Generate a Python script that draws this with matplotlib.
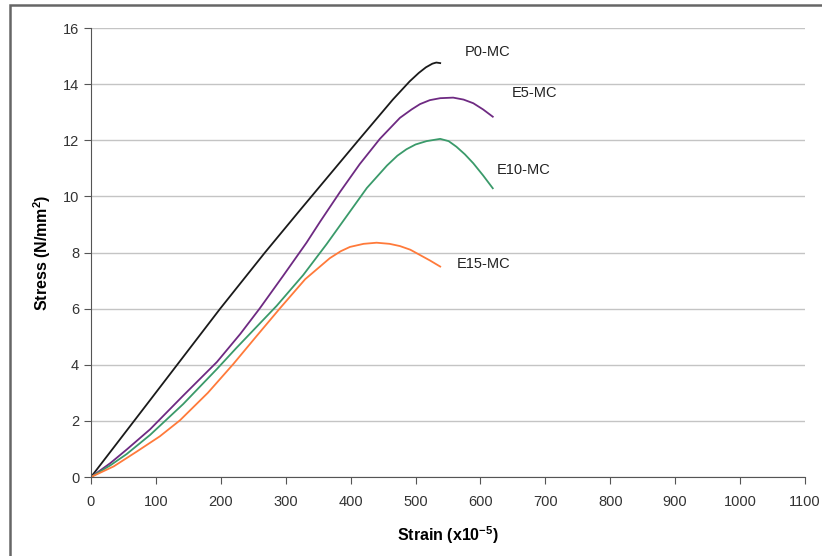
import matplotlib.pyplot as plt
from matplotlib.patches import Rectangle

plt.rcParams['font.family'] = ['Liberation Sans', 'DejaVu Sans']
plt.rcParams['mathtext.fontset'] = 'custom'
plt.rcParams['mathtext.rm'] = 'Liberation Sans:bold'
plt.rcParams['mathtext.default'] = 'rm'

# values (strain x10^-5, stress N/mm2)
p0_x = [0, 91, 199, 268, 322, 412, 465, 491, 505, 516, 526, 532, 538]
p0_y = [0, 2.74, 6.0, 8.0, 9.51, 12.0, 13.45, 14.1, 14.4, 14.6, 14.73, 14.77, 14.75]

e5_x = [0, 30, 55, 91, 142, 194, 230, 260, 296, 332, 353, 384, 414, 445, 476, 494, 507, 522, 538, 558, 574, 589, 604, 619]
e5_y = [0, 0.5, 0.98, 1.7, 2.9, 4.1, 5.1, 6.01, 7.17, 8.35, 9.1, 10.17, 11.15, 12.05, 12.8, 13.1, 13.29, 13.43, 13.5, 13.52, 13.45, 13.32, 13.1, 12.84]

e10_x = [0, 30, 55, 91, 142, 194, 224, 286, 327, 363, 394, 425, 456, 472, 486, 500, 517, 538, 551, 563, 576, 589, 604, 619]
e10_y = [0, 0.42, 0.82, 1.5, 2.6, 3.85, 4.6, 6.1, 7.2, 8.3, 9.3, 10.3, 11.1, 11.45, 11.68, 11.85, 11.97, 12.05, 11.97, 11.77, 11.5, 11.18, 10.75, 10.29]

e15_x = [0, 35, 70, 106, 137, 180, 219, 255, 291, 330, 368, 385, 399, 420, 440, 460, 476, 492, 507, 522, 538]
e15_y = [0, 0.38, 0.9, 1.45, 2.02, 3.0, 4.02, 5.02, 6.01, 7.05, 7.8, 8.05, 8.2, 8.31, 8.35, 8.31, 8.23, 8.1, 7.91, 7.72, 7.5]

series = [
    ('P0-MC', p0_x, p0_y, '#1a1a1a', (576, 15.15)),
    ('E5-MC', e5_x, e5_y, '#6e2a82', (649, 13.68)),
    ('E10-MC', e10_x, e10_y, '#3a9a6a', (625, 10.94)),
    ('E15-MC', e15_x, e15_y, '#ff7a3a', (564, 7.59)),
]

x_ticks = list(range(0, 1101, 100))
y_ticks = list(range(0, 17, 2))

fig = plt.figure(figsize=(8.22, 5.56), dpi=100)
ax = fig.add_axes([0.1107, 0.142, 0.8686, 0.8076])

# outer frame, cropped on right/bottom like the reference
fig.patches.append(Rectangle((10 / 822, -0.1), 1.2, 1 - 5 / 556 + 0.1,
                             transform=fig.transFigure, fill=False,
                             edgecolor='#666666', linewidth=1.8))

for name, xs, ys, col, pos in series:
    ax.plot(xs, ys, color=col, linewidth=1.3, solid_joinstyle='round')
    ax.text(pos[0], pos[1], name, fontsize=10.5, color='#222222', va='center', ha='left')

ax.set_xlim(0, 1100)
ax.set_ylim(0, 16)
ax.set_xticks(x_ticks)
ax.set_yticks(y_ticks)
ax.yaxis.grid(True, color='#c4c4c4', linewidth=1.0)
ax.set_axisbelow(True)
for s in ['top', 'right']:
    ax.spines[s].set_visible(False)
for s in ['left', 'bottom']:
    ax.spines[s].set_color('#555555')
ax.tick_params(direction='out', length=5, color='#555555', labelsize=10.5, labelcolor='#333333')
ax.tick_params(axis='x', pad=8)

ax.set_xlabel(r'Strain (x10$^{-5}$)', fontsize=11.5, fontweight='bold', labelpad=11)
ax.set_ylabel(r'Stress (N/mm$^{2}$)', fontsize=11.5, fontweight='bold', labelpad=7)

fig.savefig('out.png', dpi=100)
